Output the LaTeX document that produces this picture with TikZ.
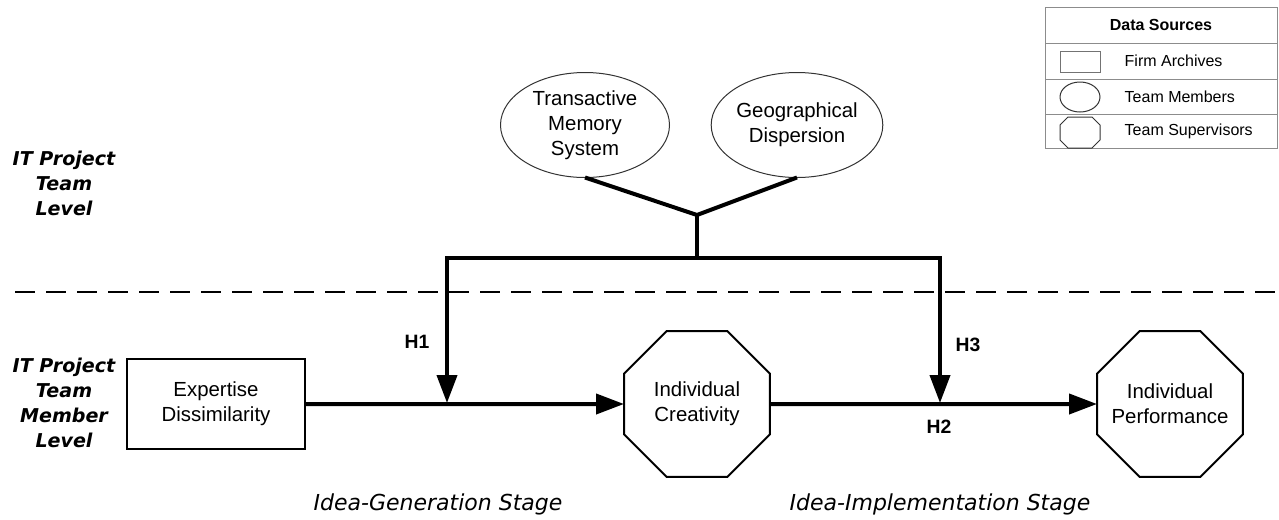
\documentclass[tikz,border=0pt]{standalone}
\usepackage{fontspec}
\setmainfont{Liberation Sans}
\newfontfamily\levelfont{DejaVu Sans Bold Oblique}
\newfontfamily\stagefont{DejaVu Sans Oblique}
\usetikzlibrary{arrows.meta,shapes.geometric}

\tikzset{
  thickline/.style={line width=3pt},
  arrowline/.style={line width=3pt,-{Triangle[length=21pt,width=15pt]}},
  construct/.style={align=center,inner sep=0pt,outer sep=0pt,
    font=\fontsize{15.3}{18.75}\selectfont},
  octabox/.style={construct,draw,line width=1.5pt,regular polygon,
    regular polygon sides=8,minimum size=118.5pt,inner sep=-10pt},
  ellbox/.style={construct,draw=black!80,line width=0.75pt,ellipse,
    minimum height=78.75pt},
  hlabel/.style={font=\fontsize{14.5}{17}\selectfont\bfseries},
  levellabel/.style={align=center,font=\fontsize{14.3}{18.75}\levelfont},
  stagelabel/.style={font=\fontsize{16.5}{19}\stagefont},
  legendline/.style={draw=black!45,line width=0.75pt},
  legendtext/.style={font=\fontsize{12}{14}\selectfont}
}

\begin{document}
\begin{tikzpicture}[x=0.75pt,y=-0.75pt]
    \useasboundingbox (0,0) rectangle (1279,519);

    % legend
    \draw[legendline] (1045,7) rectangle (1277,148);
    \draw[legendline] (1045,43)--(1277,43);
    \draw[legendline] (1045,79)--(1277,79);
    \draw[legendline] (1045,114)--(1277,114);
    \node[legendtext,font=\fontsize{12}{14}\selectfont\bfseries] (dsrc) at (1161,25) {Data Sources};
    \node[draw=black!55,line width=0.75pt,minimum width=30pt,minimum height=15.75pt,inner sep=0pt] (iconrect) at (1080,61.5) {};
    \node[draw=black!80,line width=0.75pt,ellipse,minimum width=30pt,minimum height=22.5pt,inner sep=0pt] (iconell) at (1080,97) {};
    \draw[draw=black!80,line width=0.75pt] (1060,125)--(1068,117)--(1092,117)--(1100,125)--(1100,140)--(1092,148)--(1068,148)--(1060,140)--cycle;
    \node[legendtext,anchor=west] (lfirm) at (1120,61) {Firm Archives};
    \node[legendtext,anchor=west] (lmemb) at (1120,97) {Team Members};
    \node[legendtext,anchor=west] (lsupv) at (1120,131) {Team Supervisors};

    % levels
    \node[levellabel] (teamlvl) at (64,183) {IT Project\\Team\\Level};
    \node[levellabel] (memblvl) at (64,402.5) {IT Project\\Team\\Member\\Level};
    \draw[line width=2pt,dash pattern=on 15pt off 8.25pt] (15,292)--(1277,292);

    % moderators
    \node[ellbox,minimum width=126.75pt] (tms) at (585,125) {Transactive\\Memory\\System};
    \node[ellbox,minimum width=123.75pt] (geo) at (797,125) {Geographical\\Dispersion};
    \coordinate (junc) at (697,215);
    \coordinate (barM) at (697,258);
    \coordinate (h1end) at (447,403);
    \coordinate (h3end) at (940,403);
    \draw[thickline] (tms.south)--(junc)--(geo.south);
    \draw[thickline] (junc)--(barM);
    \draw[arrowline] (barM) -| (h1end);
    \draw[arrowline] (barM) -| (h3end);

    % main path
    \node[construct,draw,line width=1.5pt,minimum width=133.5pt,minimum height=67.5pt] (exp) at (216,404) {Expertise\\Dissimilarity};
    \node[octabox] (cre) at (697,404) {Individual\\Creativity};
    \node[octabox] (perf) at (1170,404) {Individual\\Performance};
    \draw[arrowline] (exp.east)--(cre.west);
    \draw[arrowline] (cre.east)--(perf.west);

    \node[hlabel] (h1) at (417,342) {H1};
    \node[hlabel] (h3) at (968,345) {H3};
    \node[hlabel] (h2) at (939,427) {H2};

    \node[stagelabel] (gen) at (438,504) {Idea-Generation Stage};
    \node[stagelabel] (impl) at (940,504) {Idea-Implementation Stage};
\end{tikzpicture}
\end{document}
